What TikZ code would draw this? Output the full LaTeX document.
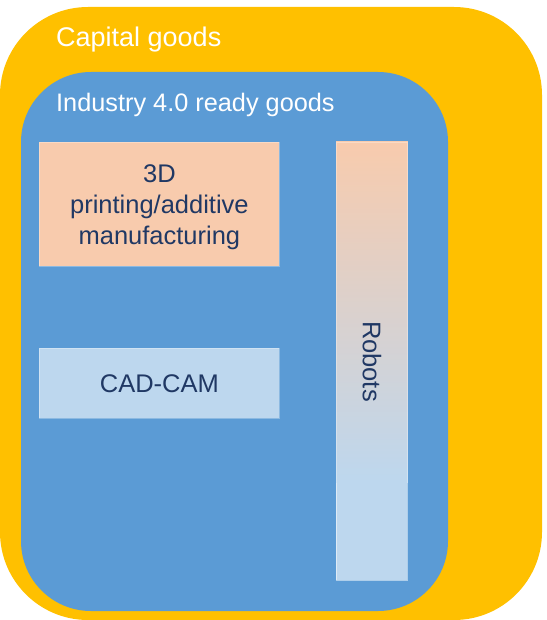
\documentclass[tikz,border=0pt]{standalone}
\usepackage{fontspec}
\setmainfont{Liberation Sans}
\definecolor{capyellow}{HTML}{FFC000}
\definecolor{indblue}{HTML}{5B9BD5}
\definecolor{peach}{HTML}{F8CBAD}
\definecolor{lightblue}{HTML}{BDD7EE}
\definecolor{navytext}{HTML}{203864}
\begin{document}
\begin{tikzpicture}[x=1pt,y=-1pt,
  itembox/.style={draw=white, draw opacity=0.3, line width=0.8pt, inner sep=0pt, anchor=north west},
  itemtext/.style={text=navytext, align=center, inner sep=0pt, font=\fontsize{25.5}{31}\selectfont},
  titletext/.style={text=white, anchor=base west, inner sep=0pt}]
\useasboundingbox (0,0) rectangle (546,620);
\path[fill=capyellow, rounded corners=88pt] (0,7) rectangle (542,620);
\path[fill=indblue, rounded corners=70pt] (21,72) rectangle (448,611);
\node[titletext, font=\fontsize{27}{32}\selectfont] (capital) at (56,46.7) {Capital goods};
\node[titletext, font=\fontsize{25.3}{30}\selectfont] (industry) at (56,112) {Industry 4.0 ready goods};
\node[itembox, fill=peach, minimum width=240pt, minimum height=124pt] (printbox) at (39,142) {};
\node[itemtext] (printtext) at ([yshift=-3pt]printbox.center) {3D\\printing/additive\\manufacturing};
\node[itembox, fill=lightblue, minimum width=240pt, minimum height=70pt] (cadbox) at (39,348) {};
\node[itemtext] (cadtext) at (cadbox.center) {CAD-CAM};
\node[itembox, fill=lightblue, minimum width=71pt, minimum height=438pt] (robotbox) at (336,142) {};
\path[top color=peach, bottom color=lightblue] (robotbox.north west) rectangle ([yshift=-340pt]robotbox.north east);
\draw[white, draw opacity=0.3, line width=0.8pt] (robotbox.north west) rectangle (robotbox.south east);
\node[itemtext, rotate=-90] (robottext) at (robotbox.center) {Robots};
\end{tikzpicture}
\end{document}
